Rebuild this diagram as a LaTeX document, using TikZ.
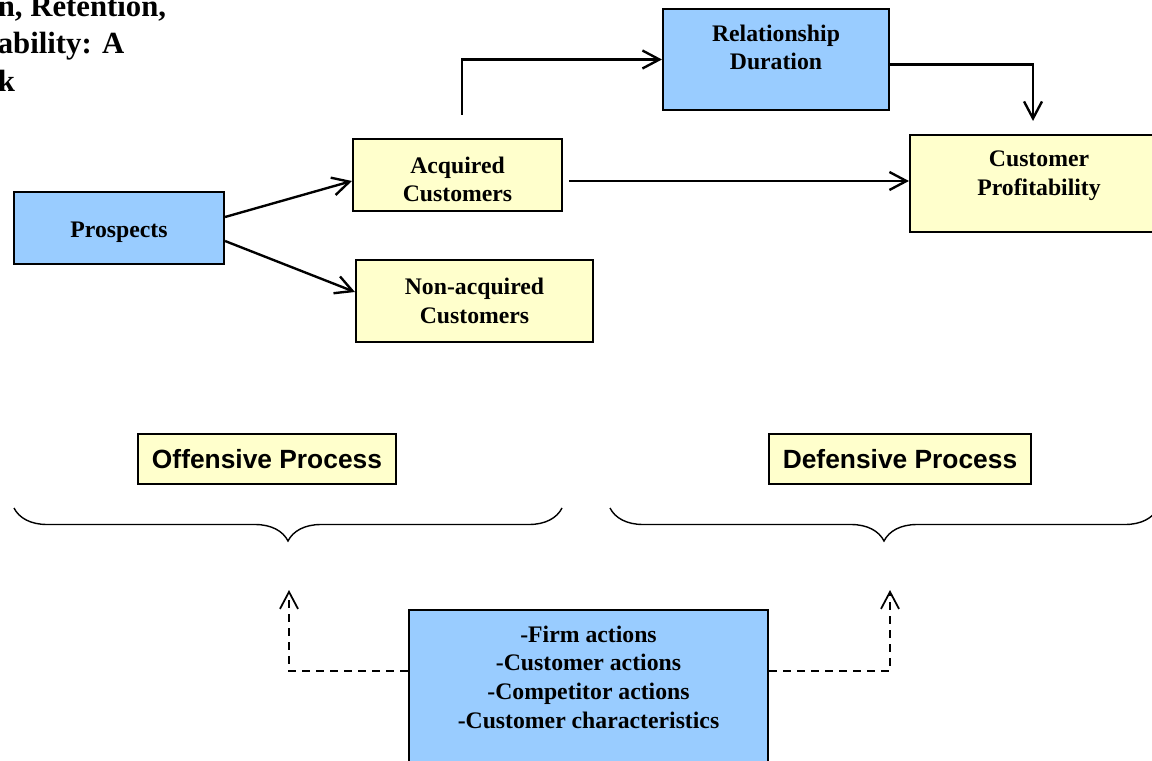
\documentclass[tikz,border=0pt]{standalone}
\usepackage{fontspec}
\setmainfont{Liberation Serif}
\setsansfont{Liberation Sans}
\usetikzlibrary{positioning, arrows.meta, decorations.pathreplacing}
\definecolor{boxblue}{HTML}{99CCFF}
\definecolor{boxyellow}{HTML}{FFFFCC}
\tikzset{
>={Straight Barb[length=3.4mm, width=3.6mm]}, % open arrow heads
every node/.style={font=\fontsize{13.5}{16.3}\selectfont\bfseries, align=center}, % bold serif text everywhere
box/.style={draw, line width=1.2pt}, % outline of every box
blue box/.style={box, fill=boxblue},
yellow box/.style={box, fill=boxyellow},
process/.style={yellow box, minimum height=1cm, font=\fontsize{15}{18}\selectfont\sffamily\bfseries},
flow/.style={->, line width=1.35pt}, % solid arrows
link/.style={->, line width=1pt, dash pattern=on 1.6mm off 1.2mm}, % dashed arrows
fold/.style={decorate, decoration={brace, mirror, amplitude=6.6mm}, line width=0.8pt}, % curly braces
}

\begin{document}
\begin{tikzpicture}
    \useasboundingbox (0,0) rectangle (23.04,-15.22);

    % title, cut by the page edge
    \node[anchor=north west, inner sep=0pt, align=left, font=\fontsize{17.5}{21.5}\selectfont\bfseries] (title) at (-0.05,0.11) {n, Retention,\\ability: A\\k};

    % upper part
    \node[blue box, minimum width=4.2cm, minimum height=1.44cm, text height=0.5cm] (prospects) at (2.38,-4.56) {Prospects};
    \node[yellow box, minimum width=4.18cm, minimum height=1.44cm] (acquired) at (9.15,-3.5) {};
    \node[below=0.25cm of acquired.north] (acquired text) {Acquired\\Customers};
    \node[yellow box, minimum width=4.74cm, minimum height=1.64cm] (nonacquired) at (9.49,-6.02) {Non-acquired\\Customers};
    \node[blue box, minimum width=4.52cm, minimum height=2.02cm] (duration) at (15.52,-1.19) {};
    \node[below=0.21cm of duration.north] (duration text) {Relationship\\Duration};
    \node[yellow box, minimum width=5.16cm, minimum height=1.94cm] (profit) at (20.78,-3.67) {};
    \node[below=0.22cm of profit.north] (profit text) {Customer\\Profitability};

    \draw[flow] ([yshift=0.22cm]prospects.east) -- ([yshift=-0.12cm]acquired.west);
    \draw[flow] ([yshift=-0.26cm]prospects.east) -- ([yshift=0.18cm]nonacquired.west);
    \draw[flow] ([xshift=0.09cm,yshift=0.46cm]acquired.north) |- (duration.west);
    \draw[flow] ([xshift=0.12cm,yshift=0.05cm]acquired.east |- profit.west) -- ([yshift=0.05cm]profit.west);
    \draw[flow] ([yshift=-0.1cm]duration.east) -| ([xshift=-0.12cm,yshift=0.26cm]profit.north);

    % lower part
    \node[process, minimum width=5.16cm] (offensive) at (5.34,-9.18) {Offensive Process};
    \node[process, minimum width=5.24cm] (defensive) at (18.0,-9.18) {Defensive Process};

    \coordinate (offensive left) at (0.28,-10.16);
    \coordinate (offensive right) at (11.24,-10.16);
    \coordinate (defensive left) at (12.2,-10.16);
    \coordinate (defensive right) at (23.16,-10.16);
    \draw[fold] (offensive left) -- (offensive right);
    \draw[fold] (defensive left) -- (defensive right);

    \node[blue box, anchor=north, minimum width=7.18cm, minimum height=3.4cm] (factors) at (11.77,-12.18) {};
    \node[below=0.21cm of factors.north] (factors text) {-Firm actions\\-Customer actions\\-Competitor actions\\-Customer characteristics};

    \coordinate (offensive tip) at (5.78,-11.8);
    \coordinate (defensive tip) at (17.8,-11.8);
    \draw[link] ([yshift=-1.24cm]factors.north west) -| (offensive tip);
    \draw[link] ([yshift=-1.24cm]factors.north east) -| (defensive tip);
\end{tikzpicture}
\end{document}
